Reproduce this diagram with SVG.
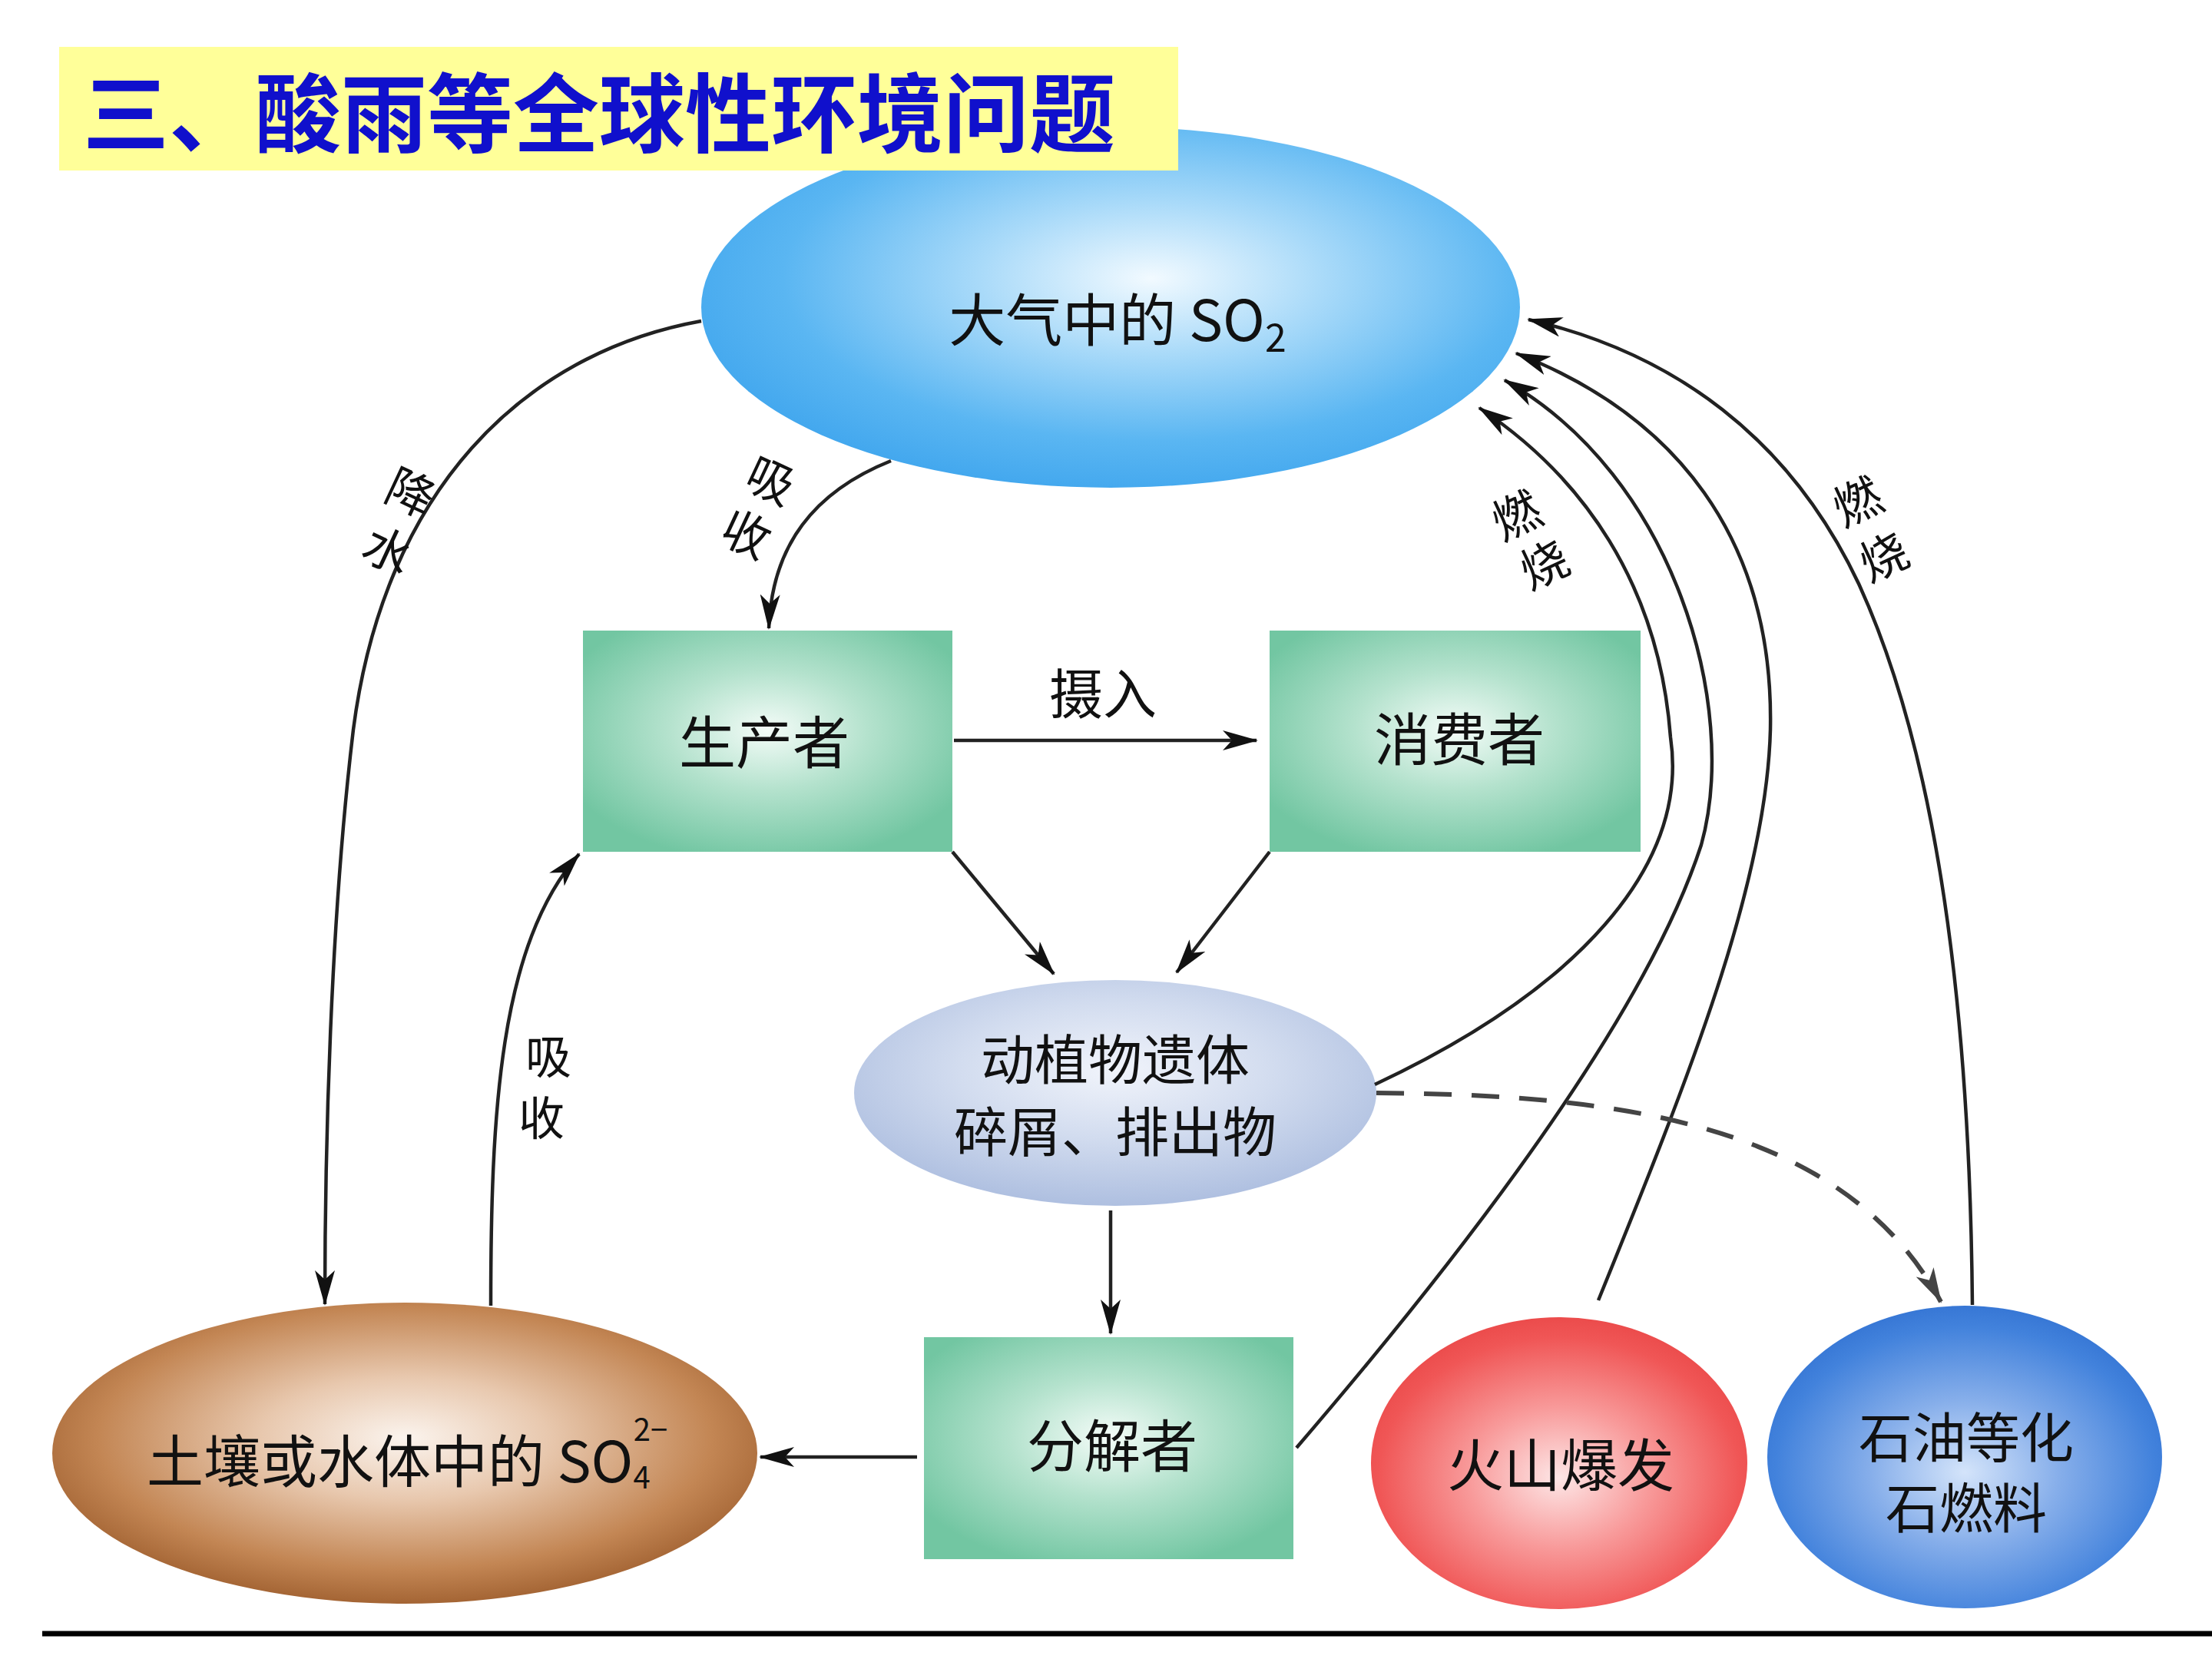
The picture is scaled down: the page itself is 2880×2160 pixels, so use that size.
<svg xmlns="http://www.w3.org/2000/svg" width="2880" height="2160" viewBox="0 0 2880 2160">
<defs>
<radialGradient id="gAir" cx="0.55" cy="0.42" r="0.6">
<stop offset="0" stop-color="#f2faff"/><stop offset="0.35" stop-color="#a9daf9"/><stop offset="0.75" stop-color="#5ab6f2"/><stop offset="1" stop-color="#42a7ee"/>
</radialGradient>
<radialGradient id="gGreen" cx="0.5" cy="0.45" r="0.6">
<stop offset="0" stop-color="#f4fcf8"/><stop offset="0.45" stop-color="#b4e2cd"/><stop offset="1" stop-color="#72c6a2"/>
</radialGradient>
<radialGradient id="gDet" cx="0.5" cy="0.4" r="0.6">
<stop offset="0" stop-color="#f1f4fb"/><stop offset="0.5" stop-color="#d2dcef"/><stop offset="1" stop-color="#aebfe0"/>
</radialGradient>
<radialGradient id="gSoil" cx="0.5" cy="0.45" r="0.58">
<stop offset="0" stop-color="#fbf4ee"/><stop offset="0.35" stop-color="#e8c8ae"/><stop offset="0.75" stop-color="#c38654"/><stop offset="1" stop-color="#9c5c2c"/>
</radialGradient>
<radialGradient id="gRed" cx="0.5" cy="0.55" r="0.6">
<stop offset="0" stop-color="#fde6e6"/><stop offset="0.4" stop-color="#f89a9a"/><stop offset="0.8" stop-color="#f05656"/><stop offset="1" stop-color="#e84444"/>
</radialGradient>
<radialGradient id="gBlue" cx="0.5" cy="0.55" r="0.6">
<stop offset="0" stop-color="#d4e4fa"/><stop offset="0.4" stop-color="#86aeea"/><stop offset="0.8" stop-color="#4282dc"/><stop offset="1" stop-color="#2f6fd0"/>
</radialGradient>
<marker id="arrL" viewBox="0 0 46 26" refX="44" refY="13" markerWidth="46" markerHeight="26" markerUnits="userSpaceOnUse" orient="auto">
<path d="M0,0 L46,13 L0,26 L12,13 z" fill="#111"/>
</marker>
<marker id="arrD" viewBox="0 0 46 26" refX="44" refY="13" markerWidth="46" markerHeight="26" markerUnits="userSpaceOnUse" orient="auto">
<path d="M0,0 L46,13 L0,26 L12,13 z" fill="#444"/>
</marker>
<style>
.t{font-family:"Noto Sans CJK SC","Noto Sans",sans-serif;fill:#111;text-anchor:middle}
.n{font-size:74px}
.l{font-size:62px}
.c{fill:none;stroke:#222;stroke-width:4.5}
.d{fill:none;stroke:#444;stroke-width:6;stroke-dasharray:36 26}
.title{font-family:"Noto Sans CJK SC",sans-serif;font-weight:bold;font-size:112px;fill:#1010cc}
</style>
</defs>
<rect width="2880" height="2160" fill="#fff"/>

<g id="atmosphere">
<ellipse cx="1446" cy="400" rx="533" ry="235" fill="url(#gAir)"/>
<text class="t n" x="1455" y="444">大气中的 SO<tspan font-size="50" dy="14">2</tspan></text>
</g>

<g id="title">
<rect x="77" y="61" width="1457" height="161" fill="#ffff99"/>
<text class="title" x="108" y="190">三、酸雨等全球性环境问题</text>
</g>

<g id="producer">
<rect x="759" y="821" width="481" height="288" fill="url(#gGreen)"/>
<text class="t n" x="995" y="994">生产者</text>
</g>

<g id="consumer">
<rect x="1653" y="821" width="483" height="288" fill="url(#gGreen)"/>
<text class="t n" x="1900" y="990">消费者</text>
</g>

<g id="detritus">
<ellipse cx="1452" cy="1423" rx="340" ry="147" fill="url(#gDet)"/>
<text class="t" font-size="70" x="1452" y="1406">动植物遗体</text>
<text class="t" font-size="70" x="1452" y="1500">碎屑、排出物</text>
</g>

<g id="decomposer">
<rect x="1203" y="1741" width="481" height="289" fill="url(#gGreen)"/>
<text class="t n" x="1448" y="1910">分解者</text>
</g>

<g id="soil">
<ellipse cx="527" cy="1892" rx="459" ry="196" fill="url(#gSoil)"/>
<text class="t n" x="530" y="1930">土壤或水体中的 SO<tspan font-size="40" dy="8">4</tspan><tspan font-size="40" dx="-22" dy="-62">2−</tspan></text>
</g>

<g id="volcano">
<ellipse cx="2030" cy="1905" rx="245" ry="190" fill="url(#gRed)"/>
<text class="t n" x="2032" y="1935">火山爆发</text>
</g>

<g id="fossil">
<ellipse cx="2558" cy="1897" rx="257" ry="197" fill="url(#gBlue)"/>
<text class="t" font-size="70" x="2560" y="1898">石油等化</text>
<text class="t" font-size="70" x="2560" y="1990">石燃料</text>
</g>

<g id="connectors">
<path class="c" d="M913,418 C680,460 500,640 460,950 C430,1200 423,1500 423,1698" marker-end="url(#arrL)"/>
<path class="c" d="M1160,600 C1060,640 1005,710 1001,818" marker-end="url(#arrL)"/>
<path class="c" d="M639,1700 C639,1450 650,1230 754,1112" marker-end="url(#arrL)"/>
<path class="c" d="M1242,964 L1636,964" stroke-width="5.5" marker-end="url(#arrL)"/>
<path class="c" d="M1240,1109 L1372,1268" stroke-width="5.5" marker-end="url(#arrL)"/>
<path class="c" d="M1653,1109 L1532,1266" stroke-width="5.5" marker-end="url(#arrL)"/>
<path class="c" d="M1446,1576 L1446,1736" stroke-width="5" marker-end="url(#arrL)"/>
<path class="c" d="M1194,1897 L990,1897" stroke-width="5" marker-end="url(#arrL)"/>
<path class="c" d="M1790,1412 C2050,1290 2200,1130 2175,960 C2160,760 2060,620 1926,531" marker-end="url(#arrL)"/>
<path class="c" d="M1688,1885 C1950,1580 2150,1300 2215,1100 C2265,920 2180,620 1959,495" marker-end="url(#arrL)"/>
<path class="c" d="M2081,1693 C2200,1400 2300,1150 2305,950 C2310,700 2180,540 1974,460" marker-end="url(#arrL)"/>
<path class="c" d="M2568,1699 C2565,1350 2530,1000 2420,760 C2330,570 2180,460 1990,416" marker-end="url(#arrL)"/>
<path class="d" d="M1792,1423 C2100,1425 2400,1460 2527,1695" marker-end="url(#arrD)"/>
</g>

<g id="labels">
<text class="t l" transform="translate(525,662) rotate(25)">降</text>
<text class="t l" transform="translate(495,737) rotate(25)">水</text>
<text class="t l" transform="translate(994,646) rotate(25)">吸</text>
<text class="t l" transform="translate(962,716) rotate(25)">收</text>
<text class="t" font-size="60" x="714" y="1398">吸</text>
<text class="t" font-size="60" x="705" y="1478">收</text>
<text class="t l" transform="translate(1984,692) rotate(-25)">燃</text>
<text class="t l" transform="translate(2020,756) rotate(-25)">烧</text>
<text class="t l" transform="translate(2428,674) rotate(-25)">燃</text>
<text class="t l" transform="translate(2462,746) rotate(-25)">烧</text>
<text class="t" font-size="70" x="1436" y="930">摄入</text>
</g>

<line x1="55" y1="2127" x2="2880" y2="2127" stroke="#000" stroke-width="7"/>
</svg>
